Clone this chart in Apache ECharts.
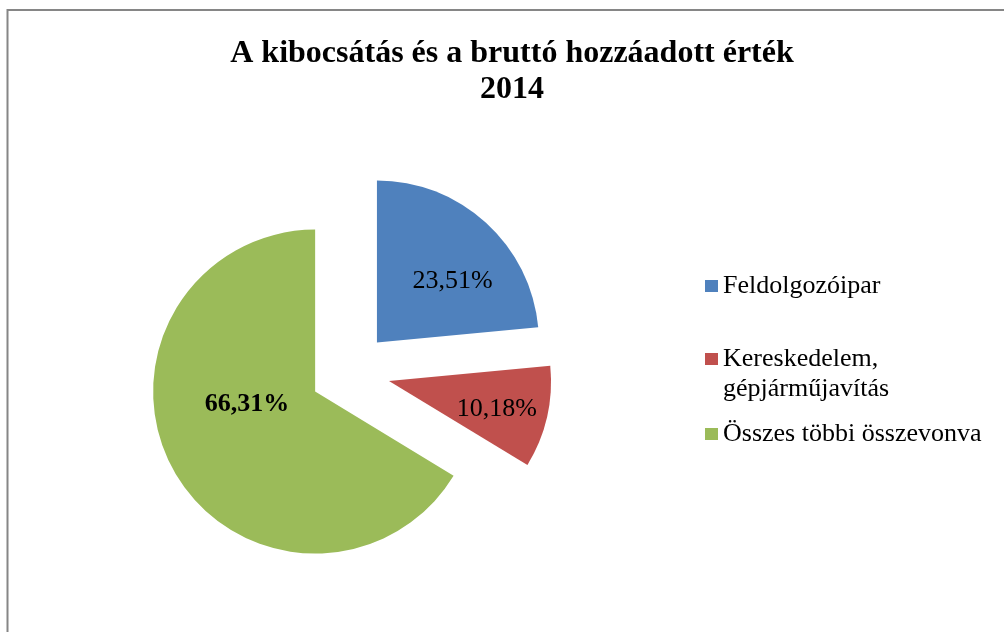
<!DOCTYPE html>
<html>
<head>
<meta charset="utf-8">
<script src="https://cdn.jsdelivr.net/npm/echarts@6/dist/echarts.min.js"></script>
<style>
  html, body { margin: 0; padding: 0; background: #fff; }
  #chart { width: 1004px; height: 632px; }
</style>
</head>
<body>
<div id="chart"></div>
<script>
// adatok
const categories = ['Feldolgozóipar', 'Kereskedelem, gépjárműjavítás', 'Összes többi összevonva'];
const shares = [23.51, 10.18, 66.31];
const colors = ['#4F81BD', '#C0504D', '#9BBB59'];
const titleText = 'A kibocsátás és a bruttó hozzáadott érték\n2014';

const serif = "'Liberation Serif', 'Times New Roman', serif";

// címkék finomhangolása (Excel-szerű elhelyezés)
const labelShift = [[19, 1], [26, 9], [5, -29]];
const labelWeight = ['normal', 'normal', 'bold'];

const fmt = v => v.toFixed(2).replace('.', ',') + '%';

const chart = echarts.init(document.getElementById('chart'));

const legendBase = {
  orient: 'vertical',
  left: 705,
  icon: 'rect',
  itemWidth: 13,
  itemHeight: 12,
  selectedMode: false,
  padding: 0,
  textStyle: { fontFamily: serif, fontSize: 26, color: '#000', lineHeight: 30 }
};

chart.setOption({
  animation: false,
  color: colors,
  title: {
    text: titleText,
    left: 512,
    textAlign: 'center',
    top: 36,
    padding: 0,
    textStyle: { fontFamily: serif, fontSize: 32, fontWeight: 'bold', color: '#000', lineHeight: 36 }
  },
  legend: [
    Object.assign({}, legendBase, { top: 271, data: [categories[0]] }),
    Object.assign({}, legendBase, {
      top: 314,
      data: [categories[1]],
      // üres első sor, hogy a jel az első sorhoz igazodjon
      formatter: () => ' \nKereskedelem,\ngépjárműjavítás'
    }),
    Object.assign({}, legendBase, { top: 419, data: [categories[2]] })
  ],
  graphic: [{
    type: 'rect',
    shape: { x: 7.5, y: 10, width: 1100, height: 700 },
    style: { fill: 'none', stroke: '#868686', lineWidth: 2 },
    silent: true
  }],
  series: [{
    type: 'pie',
    center: [350, 372],
    radius: 162,
    startAngle: 90,
    clockwise: true,
    selectedMode: 'multiple',
    selectedOffset: 40,
    emphasis: { disabled: true },
    itemStyle: { borderWidth: 0 },
    labelLine: { show: false },
    label: {
      position: 'inside',
      fontFamily: serif,
      fontSize: 26,
      color: '#000',
      formatter: p => fmt(p.value)
    },
    labelLayout: p => ({ dx: labelShift[p.dataIndex][0], dy: labelShift[p.dataIndex][1] }),
    data: categories.map((name, i) => ({
      name: name,
      value: shares[i],
      selected: true,
      label: { fontWeight: labelWeight[i] }
    }))
  }]
});
</script>
</body>
</html>
